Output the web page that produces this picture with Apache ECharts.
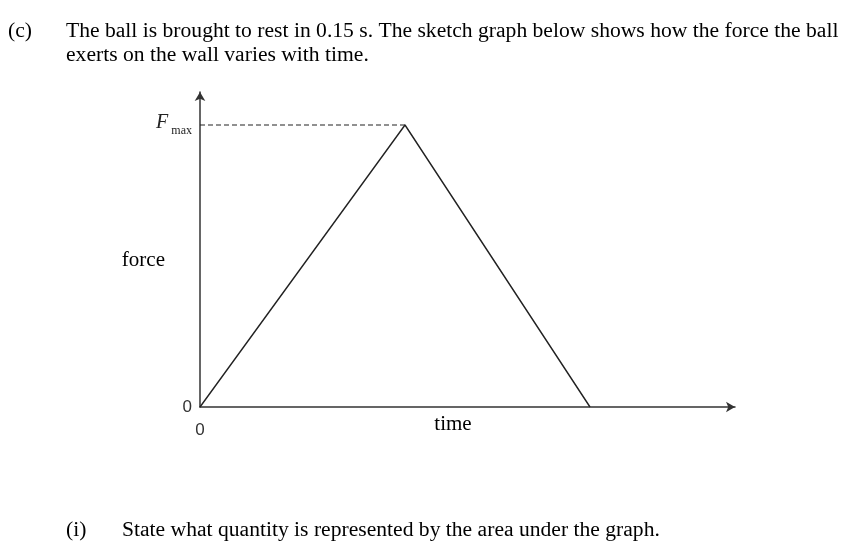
<!DOCTYPE html>
<html><head><meta charset="utf-8">
<script src="https://cdn.jsdelivr.net/npm/echarts@6/dist/echarts.min.js"></script>
<style>html,body{margin:0;padding:0;background:#fff}#c{width:855px;height:557px}</style>
</head><body><div id="c"></div>
<script>
const times = [0, 4.1, 7.8];
const forces = [0, 1, 0];
const peakTime = 4.1;
const fMax = 1;
const xLabel = 'time';
const yLabel = 'force';
const headerLines = ['The ball is brought to rest in 0.15 s. The sketch graph below shows how the force the ball', 'exerts on the wall varies with time.'];
const question = 'State what quantity is represented by the area under the graph.';

const chart = echarts.init(document.getElementById('c'));
const serif = '"Liberation Serif", "Times New Roman", serif';
const tf = '21.6px ' + serif;
chart.setOption({
  animation: false,
  grid: {left: 200, right: 120, top: 92, bottom: 150},
  xAxis: {
    type: 'value', min: 0, max: 10.7,
    name: xLabel, nameLocation: 'middle', nameGap: 7, nameMoveOverlap: false,
    nameTextStyle: {fontFamily: serif, fontSize: 21, color: '#000', verticalAlign: 'top', padding: [0, 29, 0, 0]},
    axisLine: {show: true, symbol: ['none', 'arrow'], symbolSize: [8, 9], lineStyle: {color: '#333', width: 1.5}},
    axisTick: {show: false}, splitLine: {show: false},
    axisLabel: {customValues: [0], fontFamily: '"Liberation Sans", Arial, sans-serif', fontSize: 17, color: '#333', margin: 15}
  },
  yAxis: {
    type: 'value', min: 0, max: 1.117,
    name: yLabel, nameLocation: 'middle', nameGap: 35, nameRotate: 0, nameMoveOverlap: false,
    nameTextStyle: {fontFamily: serif, fontSize: 21, color: '#000', verticalAlign: 'top'},
    axisLine: {show: true, symbol: ['none', 'arrow'], symbolSize: [8, 9], lineStyle: {color: '#333', width: 1.5}},
    axisTick: {show: false}, splitLine: {show: false},
    axisLabel: {
      customValues: [0, fMax], margin: 8,
      formatter: v => v === 0 ? '{z|0}' : '{f|F}{m|max}',
      rich: {
        z: {fontFamily: '"Liberation Sans", Arial, sans-serif', fontSize: 17, color: '#333'},
        f: {fontFamily: serif, fontStyle: 'italic', fontSize: 20, color: '#222', lineHeight: 24, verticalAlign: 'top', padding: [0, 0, 3, 0]},
        m: {fontFamily: serif, fontSize: 12, color: '#222', lineHeight: 12, verticalAlign: 'bottom', padding: [0, 0, 0, 3]}
      }
    }
  },
  series: [
    {type: 'line', data: times.map((t, i) => [t, forces[i]]), symbol: 'none',
     lineStyle: {color: '#222', width: 1.4}},
    {type: 'line', data: [[0, fMax], [peakTime, fMax]], symbol: 'none',
     lineStyle: {color: '#222', width: 1.2, type: [5, 3]}}
  ],
  graphic: [
    {type: 'text', left: 8, top: 20, style: {text: '(c)', font: tf, fill: '#000'}},
    {type: 'text', left: 66, top: 20, style: {text: headerLines[0], font: tf, fill: '#000'}},
    {type: 'text', left: 66, top: 44, style: {text: headerLines[1], font: tf, fill: '#000'}},
    {type: 'text', left: 66, top: 519, style: {text: '(i)', font: tf, fill: '#000'}},
    {type: 'text', left: 122, top: 519, style: {text: question, font: tf, fill: '#000'}}
  ]
});
</script></body></html>
